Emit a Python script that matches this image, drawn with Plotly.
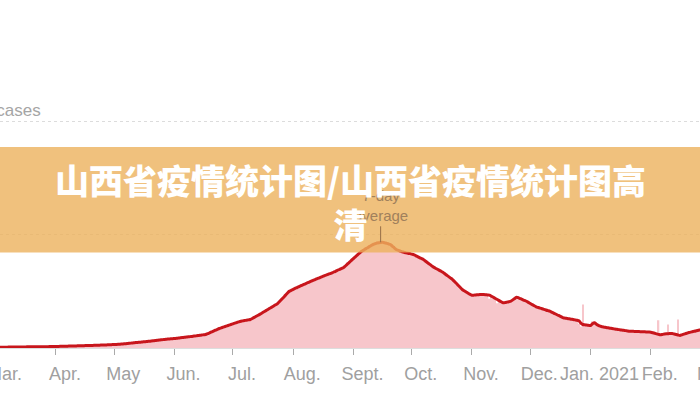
import pandas as pd
import plotly.graph_objects as go

# ---- data ----
start_date = "2020-03-01"

avg_mar = [10,12,13,14,14,15,15,16,16,17,17,18,18,18,19,19,20,20,20,21,21,22,22,22,23,23,24,24,25,25,26]
avg_apr = [27,28,29,30,31,32,33,34,35,36,37,38,39,40,41,42,43,44,45,46,47,48,49,51,52,54,55,57,58,60]
avg_may = [62,63,65,68,71,74,77,80,84,88,92,96,99,102,105,109,112,116,120,124,128,132,136,140,144,148,152,156,159,162,165]
avg_jun = [168,172,176,180,184,188,193,197,201,205,210,214,219,224,229,234,238,252,267,283,298,314,329,344,356,368,380,392,404,415]
avg_jul = [427,439,450,462,473,479,485,491,497,503,522,541,560,579,598,618,639,660,681,702,722,743,764,785,821,857,893,930,966,1002,1019]
avg_aug = [1035,1052,1068,1085,1100,1115,1130,1145,1160,1176,1191,1205,1219,1233,1248,1262,1275,1288,1301,1314,1327,1343,1358,1374,1390,1405,1421,1453,1485,1516,1548]
avg_sep = [1580,1611,1641,1672,1703,1724,1745,1765,1786,1806,1827,1840,1852,1860,1865,1867,1860,1850,1840,1827,1800,1770,1739,1725,1712,1700,1690,1680,1672,1668]
avg_oct = [1658,1650,1632,1615,1597,1580,1562,1536,1510,1485,1459,1433,1414,1395,1376,1357,1338,1312,1286,1261,1235,1209,1174,1139,1103,1068,1033,1010,990,968,948]
avg_nov = [930,934,938,941,944,946,945,942,938,935,915,895,875,856,836,816,798,802,810,818,826,850,875,897,885,870,855,840,826,806]
avg_dec = [786,766,747,727,716,705,694,683,672,661,650,633,617,600,583,567,550,533,527,521,515,509,503,497,491,480,440,415,410,405,400]
avg_jan = [397,430,445,420,400,385,374,368,362,356,350,344,338,333,327,322,317,312,307,302,297,296,294,293,291,290,288,287,285,284,282]
avg_feb = [279,270,260,250,241,233,240,246,251,253,255,256,247,238,229,221,233,245,256,268,276,285,293,301,310,318,322,326]

day_mar = [8,11,15,12,16,14,17,15,18,16,19,17,18,20,17,21,19,22,18,23,20,22,24,21,25,22,26,23,27,24,28]
day_apr = [25,30,27,31,29,34,30,36,33,38,35,40,36,42,38,44,41,47,43,49,45,51,47,53,50,56,52,59,55,63]
day_may = [58,66,62,71,67,77,72,84,78,92,85,99,93,106,98,111,104,118,113,126,119,133,126,141,135,150,142,158,150,168,160]
day_jun = [163,175,170,184,178,194,187,203,196,214,205,222,215,232,226,245,240,262,275,292,305,322,336,355,350,372,376,396,400,425]
day_jul = [415,452,440,475,468,490,478,500,488,515,530,555,548,590,585,630,628,672,668,715,705,760,750,800,810,875,880,945,955,1020,1010]
day_aug = [1050,1030,1090,1070,1120,1095,1150,1125,1180,1150,1215,1190,1240,1210,1270,1245,1300,1265,1330,1290,1350,1320,1385,1345,1420,1380,1460,1440,1510,1500,1575]
day_sep = [1600,1590,1670,1650,1730,1700,1780,1740,1820,1790,1860,1815,1890,1840,1900,1850,1880,1830,1870,1800,1830,1750,1770,1700,1750,1690,1720,1665,1700,1650]
day_oct = [1680,1640,1660,1600,1620,1560,1590,1520,1540,1460,1490,1410,1440,1380,1400,1340,1360,1290,1310,1240,1260,1190,1200,1120,1130,1050,1060,990,1010,950,970]
day_nov = [950,920,960,925,965,930,960,925,950,870,935,880,900,790,860,800,820,790,830,805,850,870,905,915,900,860,880,825,845,790]
day_dec = [800,760,770,720,740,700,715,675,690,650,670,620,640,590,600,555,570,520,545,510,530,500,520,490,505,430,380,768,400,390,410]
day_jan = [380,470,455,410,395,370,390,355,375,345,360,335,350,325,340,310,330,300,320,295,305,285,305,280,300,282,295,275,292,270,290]
day_feb = [285,262,268,240,490,225,245,240,260,415,265,250,240,230,503,215,240,245,265,260,290,275,305,290,320,310,330,320]

month_ticks = ["2020-03-01","2020-04-01","2020-05-01","2020-06-01","2020-07-01","2020-08-01",
               "2020-09-01","2020-10-01","2020-11-01","2020-12-01","2021-01-01","2021-02-01","2021-03-01"]
month_labels = ["Mar.","Apr.","May","Jun.","Jul.","Aug.","Sept.","Oct.","Nov.","Dec.","Jan. 2021","Feb.","Mar."]

grid_values = [2000, 4000]
grid_label = "4,000 cases"
peak_date = "2020-09-15"
peak_value = 1867
title_text = "山西省疫情统计图/山西省疫情统计图高<br>清"

avg7 = avg_mar + avg_apr + avg_may + avg_jun + avg_jul + avg_aug + avg_sep + avg_oct + avg_nov + avg_dec + avg_jan + avg_feb
daily = day_mar + day_apr + day_may + day_jun + day_jul + day_aug + day_sep + day_oct + day_nov + day_dec + day_jan + day_feb
dates = pd.date_range(start_date, periods=len(avg7), freq="D")

x_range = [pd.Timestamp("2020-03-03 04:48"), pd.Timestamp("2021-02-26 07:00")]
label_shift = pd.Timedelta(hours=108)  # labels sit a little right of their tick


def date_to_paper(d):
    d = pd.Timestamp(d)
    return (d - x_range[0]) / (x_range[1] - x_range[0])


fig = go.Figure()
fig.add_trace(go.Bar(x=dates, y=daily, marker=dict(color="rgb(247,198,203)", line=dict(width=0)),
                     hoverinfo="skip"))
fig.add_trace(go.Scatter(x=dates, y=avg7, mode="lines",
                         line=dict(color="rgb(200,22,28)", width=3, shape="spline", smoothing=0.6),
                         hoverinfo="skip"))

fig.update_layout(
    width=700, height=400,
    margin=dict(l=0, r=0, t=40, b=52, autoexpand=False),
    paper_bgcolor="white", plot_bgcolor="white",
    showlegend=False, bargap=0.3,
    font=dict(family="Liberation Sans, Arial, sans-serif", color="#999999"),
)
fig.update_xaxes(
    range=x_range, automargin=False,
    tickvals=month_ticks, ticktext=month_labels,
    ticks="outside", ticklen=6, tickcolor="#aaaaaa", tickwidth=1,
    ticklabelshift=9, ticklabelstandoff=3,
    tickfont=dict(size=18, color="#a0a0a0"),
    showline=True, linecolor="#dddddd", linewidth=1,
    showgrid=False, zeroline=False,
)
fig.update_yaxes(
    range=[0, 5440], automargin=False, tickvals=grid_values, showticklabels=False,
    showgrid=True, gridcolor="#dcdcdc", griddash="3px,3px", gridwidth=1,
    zeroline=False, showline=False,
)

# edge month labels whose ticks fall just outside the visible range
for tv, tl in [(month_ticks[0], month_labels[0]), (month_ticks[-1], month_labels[-1])]:
    fig.add_annotation(x=date_to_paper(pd.Timestamp(tv) + label_shift), xref="paper",
                       y=0, yref="paper", yshift=-26, text=tl, showarrow=False,
                       xanchor="center", yanchor="middle",
                       font=dict(size=18, color="#a0a0a0"))

# y grid label
fig.add_annotation(x=43 / 700, xref="paper", y=grid_values[1], yref="y", text=grid_label,
                   showarrow=False, xanchor="right", yanchor="bottom", yshift=0,
                   font=dict(size=17, color="#a5a5a5"))

# 7-day average label (seen through the banner)
fig.add_annotation(x=peak_date, y=peak_value, xref="x", yref="y", text="7-day<br>average",
                   showarrow=True, arrowhead=0, arrowwidth=1, arrowcolor="rgb(150,110,70)",
                   ax=0, ay=-16, yanchor="bottom",
                   font=dict(size=15, color="rgb(160,128,92)"))

# orange banner overlay
fig.add_shape(type="rect", xref="paper", yref="paper", x0=-0.01, x1=1.01,
              y0=(348 - 252.5) / 308, y1=(348 - 147) / 308,
              fillcolor="rgb(236,178,92)", opacity=0.8, line=dict(width=0), layer="above")

# banner title
fig.add_annotation(x=0.5, xref="paper", y=(348 - 201) / 308, yref="paper", text=title_text,
                   showarrow=False, xanchor="center", yanchor="middle",
                   font=dict(family="Noto Sans CJK SC", size=34, color="white", weight=900))

fig.write_html("out.html", config={"displayModeBar": False},
               post_script="document.body.style.margin='0';")
